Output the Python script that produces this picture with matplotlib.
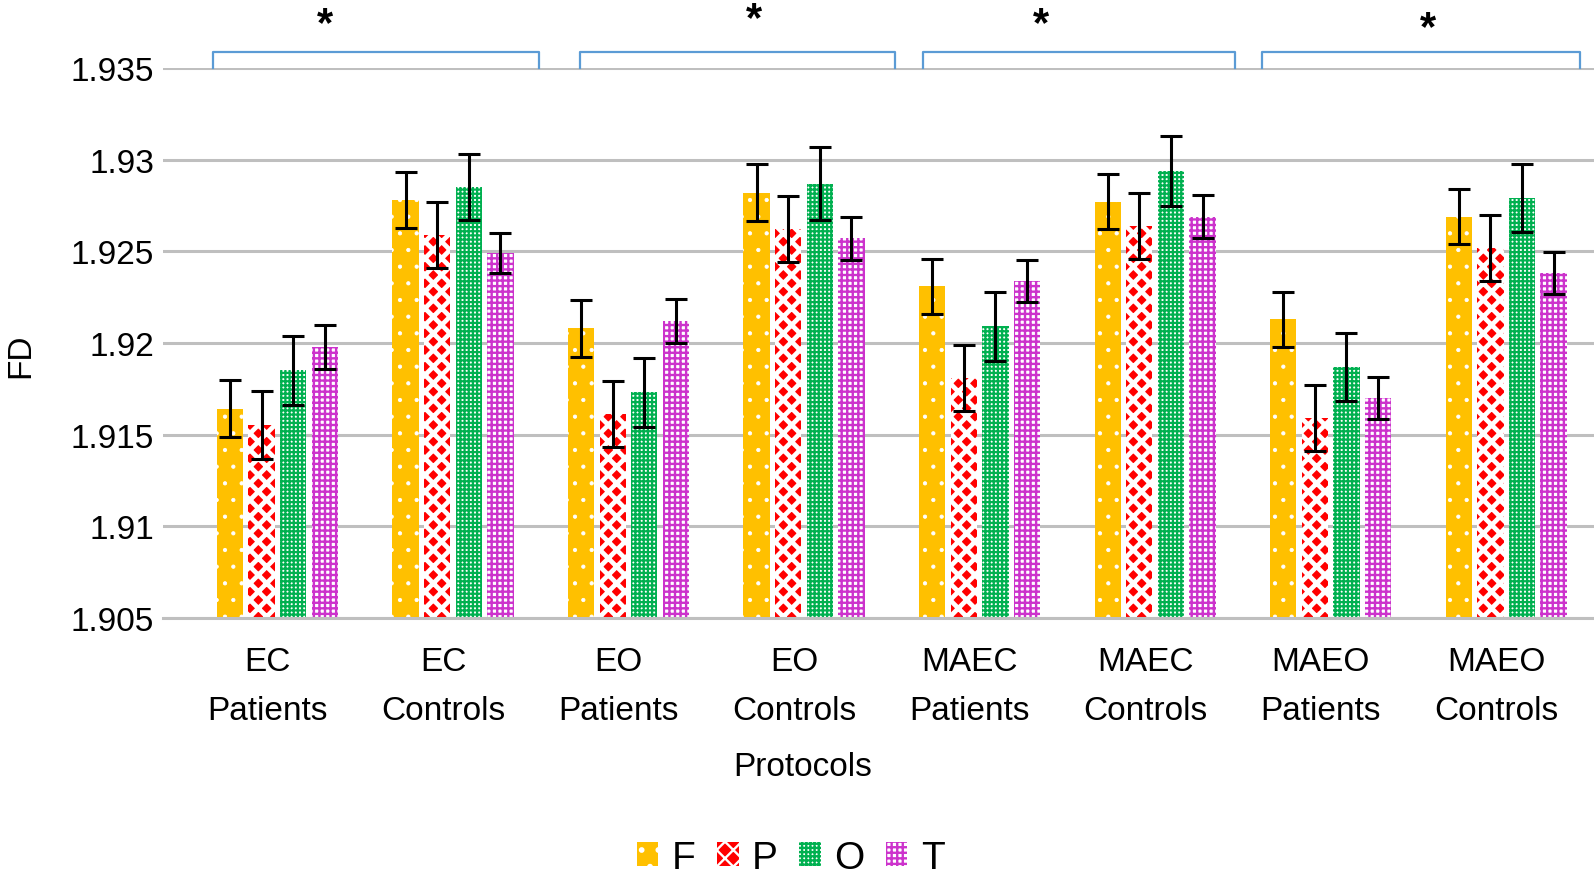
import numpy as np
import matplotlib.pyplot as plt
import matplotlib.transforms as mtransforms

plt.rcParams['font.family'] = ['Liberation Sans', 'DejaVu Sans']

# Daten
protokolle = ["EC\nPatients", "EC\nControls", "EO\nPatients", "EO\nControls",
              "MAEC\nPatients", "MAEC\nControls", "MAEO\nPatients", "MAEO\nControls"]
regionen = ["F", "P", "O", "T"]

F_wert = [1.9164, 1.9278, 1.9208, 1.9282, 1.9231, 1.9277, 1.9213, 1.9269]
P_wert = [1.9155, 1.9259, 1.9161, 1.9262, 1.9181, 1.9264, 1.9159, 1.9252]
O_wert = [1.9185, 1.9285, 1.9173, 1.9287, 1.9209, 1.9294, 1.9187, 1.9279]
T_wert = [1.9198, 1.9249, 1.9212, 1.9257, 1.9234, 1.9269, 1.9170, 1.9238]

F_err = [0.00155, 0.00155, 0.00155, 0.00155, 0.0015, 0.0015, 0.0015, 0.0015]
P_err = [0.00185, 0.0018, 0.0018, 0.0018, 0.0018, 0.0018, 0.0018, 0.0018]
O_err = [0.0019, 0.0018, 0.0019, 0.002, 0.0019, 0.0019, 0.00185, 0.00185]
T_err = [0.0012, 0.0011, 0.0012, 0.00115, 0.00115, 0.00115, 0.00115, 0.00115]

werte = [F_wert, P_wert, O_wert, T_wert]
fehler = [F_err, P_err, O_err, T_err]

# (Füllfarbe, Schraffurfarbe, Muster, Linienbreite)
stile = [
    ("#FFC000", "white", ".", 0.6),
    ("#FF0000", "white", "xx", 3.4),
    ("white", "#00B050", "++++", 1.6),
    ("white", "#CC33CC", "+++", 1.7),
]

fig = plt.figure(figsize=(15.94, 8.87), dpi=100)
ax = fig.add_axes([0.102, 0.3024, 0.898, 0.6197])

x = np.arange(len(protokolle))
versatz = [-0.27, -0.09, 0.09, 0.27]
for i in range(4):
    fc, hc, hatch, hlw = stile[i]
    plt.rcParams['hatch.linewidth'] = hlw
    ax.bar(x + versatz[i], np.array(werte[i]) - 1.905, bottom=1.905, width=0.15,
           color=fc, edgecolor=hc, linewidth=0, hatch=hatch,
           label=regionen[i], zorder=2)
    ax.errorbar(x + versatz[i], werte[i], yerr=fehler[i], fmt="none",
                ecolor="black", elinewidth=2.2, capsize=8, capthick=2.2, zorder=3)

ax.set_ylim(1.905, 1.935)
ax.set_xlim(-0.654, 7.5)
ax.set_yticks([1.905, 1.91, 1.915, 1.92, 1.925, 1.93, 1.935])
ax.set_yticklabels(["1.905", "1.91", "1.915", "1.92", "1.925", "1.93", "1.935"])
ax.set_xticks(x)
ax.set_xticklabels(protokolle, linespacing=1.78)
ax.tick_params(axis="both", length=0, labelsize=24)
ax.tick_params(axis="y", pad=6)
ax.tick_params(axis="x", pad=20)
links = mtransforms.ScaledTranslation(-10 / 100, 0, fig.dpi_scale_trans)
for lbl in ax.get_xticklabels():
    lbl.set_transform(lbl.get_transform() + links)
ax.yaxis.grid(True, color="#BFBFBF", linewidth=2.2, zorder=0)
ax.set_axisbelow(True)
for s in ["top", "right", "left"]:
    ax.spines[s].set_visible(False)
ax.spines["bottom"].set_color("#BFBFBF")
ax.spines["bottom"].set_linewidth(2.2)

# Signifikanz-Klammern
klammern = [(-0.365, 1.488), (1.726, 3.52), (3.677, 5.455), (5.611, 7.423)]
sterne_x = [0.272, 2.716, 4.349, 6.555]
sterne_y = [1.9374, 1.9377, 1.9374, 1.9372]
for (a, b), sx, sy in zip(klammern, sterne_x, sterne_y):
    ax.plot([a, a, b, b], [1.935, 1.93589, 1.93589, 1.935], color="#5B9BD5",
            linewidth=1.6, clip_on=False, zorder=4)
    ax.text(sx, sy, "*", ha="center", va="center", fontsize=30,
            fontweight="bold", clip_on=False)

fig.text(790 / 1568, 1 - 755 / 873, "Protocols", ha="center", va="center", fontsize=24)
fig.text(20 / 1568, 1 - 350 / 873, "FD", ha="center", va="center", rotation=90, fontsize=24)

ax.legend(loc="center", bbox_to_anchor=(778 / 1568, 1 - 845 / 873),
          bbox_transform=fig.transFigure, ncol=4, frameon=False, fontsize=28,
          handlelength=0.55, handleheight=0.55, handletextpad=0.35, columnspacing=0.55)

fig.savefig("out.png", dpi=100)
